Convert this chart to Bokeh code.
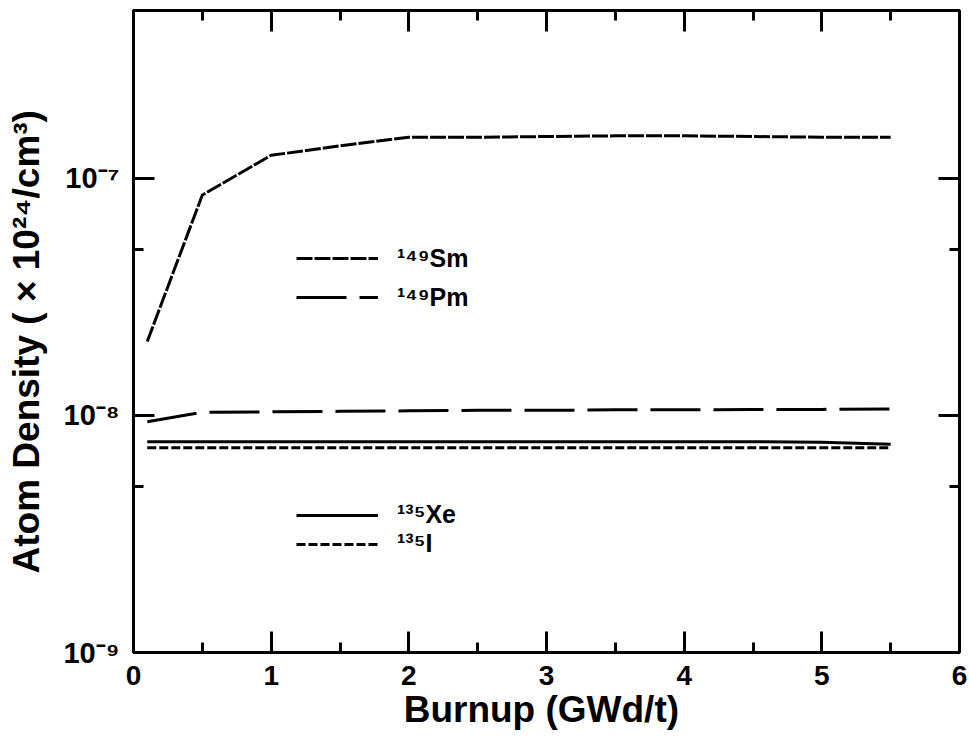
from bokeh.plotting import figure
from bokeh.models import Range1d, FixedTicker, LinearAxis, LogAxis, Legend, LegendItem
from bokeh.embed import file_html
from bokeh.resources import INLINE

# ---- data ----
burnup = [0.1, 0.5, 1.0, 1.5, 2.0, 2.5, 3.0, 3.5, 4.0, 4.5, 5.0, 5.5]
sm149 = [2.05e-8, 8.5e-8, 1.25e-7, 1.37e-7, 1.49e-7, 1.49e-7, 1.50e-7, 1.51e-7, 1.51e-7, 1.50e-7, 1.49e-7, 1.49e-7]
pm149 = [9.4e-9, 1.03e-8, 1.035e-8, 1.04e-8, 1.045e-8, 1.05e-8, 1.05e-8, 1.055e-8, 1.055e-8, 1.06e-8, 1.06e-8, 1.065e-8]
xe135 = [7.75e-9, 7.75e-9, 7.75e-9, 7.75e-9, 7.75e-9, 7.75e-9, 7.75e-9, 7.75e-9, 7.75e-9, 7.75e-9, 7.7e-9, 7.55e-9]
i135 = [7.3e-9, 7.3e-9, 7.3e-9, 7.3e-9, 7.3e-9, 7.3e-9, 7.3e-9, 7.3e-9, 7.3e-9, 7.3e-9, 7.3e-9, 7.3e-9]

x_ticks = [0, 1, 2, 3, 4, 5, 6]
x_minor = [0.5, 1.5, 2.5, 3.5, 4.5, 5.5]
y_ticks = [1e-9, 1e-8, 1e-7]
y_minor = [5e-9, 5e-8]
y_tick_labels = {1e-9: "10\u207b\u2079", 1e-8: "10\u207b\u2078", 1e-7: "10\u207b\u2077"}

FONT = "Liberation Sans"

p = figure(width=968, height=733, y_axis_type="log",
           x_range=Range1d(0, 6), y_range=Range1d(1e-9, 5.1e-7),
           output_backend="svg", toolbar_location=None,
           min_border_left=133, min_border_right=9, min_border_top=10, min_border_bottom=81)
p.background_fill_color = "white"
p.border_fill_color = "white"
p.outline_line_color = "black"
p.outline_line_width = 3
p.grid.visible = False

xa = p.xaxis[0]
xa.ticker = FixedTicker(ticks=x_ticks, minor_ticks=x_minor)
ya = p.yaxis[0]
ya.ticker = FixedTicker(ticks=y_ticks, minor_ticks=y_minor)
ya.major_label_overrides = y_tick_labels

top = LinearAxis(ticker=FixedTicker(ticks=x_ticks, minor_ticks=x_minor))
right = LogAxis(ticker=FixedTicker(ticks=y_ticks, minor_ticks=y_minor))
p.add_layout(top, "above")
p.add_layout(right, "right")

for ax in [xa, ya, top, right]:
    ax.axis_line_width = 3
    ax.axis_line_color = "black"
    ax.major_tick_in = 21
    ax.major_tick_out = 0
    ax.minor_tick_in = 10
    ax.minor_tick_out = 0
    ax.major_tick_line_width = 3
    ax.minor_tick_line_width = 3
    ax.major_label_text_font = FONT
    ax.major_label_text_font_style = "bold"
    ax.major_label_text_color = "black"
    ax.major_label_text_font_size = "28px"
    ax.axis_label_text_font = FONT
    ax.axis_label_text_font_style = "bold"
    ax.axis_label_text_color = "black"
    ax.axis_label_text_font_size = "37px"

ya.major_label_text_font_size = "29px"
top.major_label_overrides = {t: "" for t in x_ticks}
right.major_label_overrides = {t: "" for t in y_ticks}
for ax in [top, right]:
    ax.major_label_text_font_size = "2px"
    ax.major_label_standoff = 0

xa.major_label_standoff = 13
ya.major_label_standoff = 14
xa.axis_label = "Burnup  (GWd/t)"
xa.axis_label_standoff = 1
ya.axis_label = "Atom  Density  ( \u00d7 10\u00b2\u2074/cm\u00b3)"
ya.axis_label_standoff = 13

lw = 3
r_sm = p.line(burnup, sm149, line_color="black", line_width=lw, line_dash="16 2")
r_pm = p.line(burnup, pm149, line_color="black", line_width=lw, line_dash="50 13")
r_xe = p.line(burnup, xe135, line_color="black", line_width=lw)
r_i = p.line(burnup, i135, line_color="black", line_width=lw, line_dash="9 3")

def make_legend(items, loc, h, spacing):
    lg = Legend(items=items, location=loc, padding=0, margin=0, spacing=spacing,
                glyph_width=82, glyph_height=h, label_height=h, label_standoff=19,
                label_text_font=FONT, label_text_font_style="bold",
                label_text_font_size="25px", label_text_color="black",
                background_fill_alpha=0, border_line_alpha=0)
    return lg

leg1 = make_legend([LegendItem(label="\u00b9\u2074\u2079Sm", renderers=[r_sm]),
                    LegendItem(label="\u00b9\u2074\u2079Pm", renderers=[r_pm])], (163, 340), 30, 9)
leg2 = make_legend([LegendItem(label="\u00b9\u00b3\u2075Xe", renderers=[r_xe]),
                    LegendItem(label="\u00b9\u00b3\u2075I", renderers=[r_i])], (163, 94), 28, -2)
p.add_layout(leg1, "center")
p.add_layout(leg2, "center")

open("out.html", "w").write(file_html(p, INLINE))
